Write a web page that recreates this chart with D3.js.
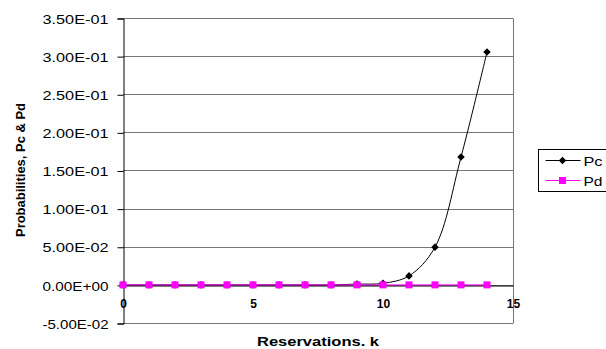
<!DOCTYPE html>
<html>
<head>
<meta charset="utf-8">
<script src="https://cdn.jsdelivr.net/npm/d3@7"></script>
<style>
  html, body { margin: 0; padding: 0; background: #fff; overflow: hidden; }
  svg { display: block; font-family: "Liberation Sans", Arial, sans-serif; }
</style>
</head>
<body>
<svg id="chart" width="606" height="349"></svg>
<script>
// Reservations k and the two probability series
const reservations = [0, 1, 2, 3, 4, 5, 6, 7, 8, 9, 10, 11, 12, 13, 14];
const pcValues = [0, 0, 0, 0, 0, 0, 0, 0, 0, 0.001, 0.002, 0.0118, 0.0495, 0.1676, 0.3054];
const pdValues = [0, 0, 0, 0, 0, 0, 0, 0, 0, 0, 0, 0, 0, 0, 0];
const seriesNames = ["Pc", "Pd"];
const xTickValues = [0, 5, 10, 15];
const yTickValues = [-0.05, 0, 0.05, 0.10, 0.15, 0.20, 0.25, 0.30, 0.35];

const svg = d3.select("#chart");
const plot = { left: 123, right: 513, top: 18, bottom: 323 };

const x = d3.scaleLinear().domain([0, 15]).range([plot.left, plot.right]);
const y = d3.scaleLinear().domain([-0.05, 0.35]).range([plot.bottom, plot.top]);

// Excel-style scientific notation, e.g. 3.50E-01
function sci(v) {
  const parts = v.toExponential(2).split("e");
  const exp = parts[1];
  return parts[0] + "E" + exp[0] + exp.slice(1).padStart(2, "0");
}

// Horizontal gridlines and plot frame
const gridColor = "#777";
svg.append("g")
  .selectAll("line")
  .data(yTickValues)
  .join("line")
  .attr("x1", plot.left).attr("x2", plot.right)
  .attr("y1", d => Math.round(y(d)) + 0.5).attr("y2", d => Math.round(y(d)) + 0.5)
  .attr("stroke", gridColor).attr("stroke-width", 1);

svg.append("line")
  .attr("x1", plot.right + 0.5).attr("x2", plot.right + 0.5)
  .attr("y1", Math.round(y(0.35)) + 0.5).attr("y2", Math.round(y(-0.05)) + 0.5)
  .attr("stroke", gridColor);

// Y axis
const yAxis = d3.axisLeft(y)
  .tickValues(yTickValues)
  .tickSize(6)
  .tickPadding(9)
  .tickFormat(sci);

const yg = svg.append("g")
  .attr("transform", `translate(${plot.left + 0.5},0.5)`)
  .call(yAxis);
yg.select(".domain").attr("stroke", "#000");
yg.selectAll(".tick line").attr("stroke", "#000");
yg.selectAll(".tick text")
  .attr("font-size", 13)
  .attr("font-family", "'Liberation Sans', Arial, sans-serif")
  .attr("fill", "#000")
  .attr("dy", "0.36em")
  .attr("textLength", 66)
  .attr("lengthAdjust", "spacingAndGlyphs");

// X axis crossing at zero
const xAxis = d3.axisBottom(x)
  .tickValues(xTickValues)
  .tickSize(0)
  .tickPadding(14)
  .tickFormat(d3.format("d"));

const xg = svg.append("g")
  .attr("transform", `translate(0,${Math.round(y(0)) + 0.5})`)
  .call(xAxis);
xg.select(".domain").attr("stroke", "#000");
xg.selectAll(".tick text")
  .attr("font-size", 12)
  .attr("font-weight", "bold")
  .attr("font-family", "'Liberation Sans', Arial, sans-serif")
  .attr("fill", "#000");

// Axis titles
svg.append("text")
  .attr("x", (plot.left + plot.right) / 2)
  .attr("y", 346)
  .attr("text-anchor", "middle")
  .attr("font-size", 13)
  .attr("font-weight", "bold")
  .attr("textLength", 122)
  .attr("lengthAdjust", "spacingAndGlyphs")
  .text("Reservations. k");

svg.append("text")
  .attr("transform", `translate(24.5,170) rotate(-90)`)
  .attr("text-anchor", "middle")
  .attr("font-size", 12)
  .attr("font-weight", "bold")
  .attr("textLength", 134)
  .attr("lengthAdjust", "spacingAndGlyphs")
  .text("Probabilities, Pc & Pd");

// Series
const pc = reservations.map((k, i) => ({ k, v: pcValues[i] }));
const pd = reservations.map((k, i) => ({ k, v: pdValues[i] }));

const smooth = d3.line().x(d => x(d.k)).y(d => y(d.v)).curve(d3.curveCatmullRom.alpha(0.5));
const straight = d3.line().x(d => x(d.k)).y(d => y(d.v));

svg.append("path")
  .attr("d", smooth(pc))
  .attr("fill", "none")
  .attr("stroke", "#000")
  .attr("stroke-width", 1);

const diamond = d3.symbol().type(d3.symbolDiamond2).size(36);
svg.append("g")
  .selectAll("path")
  .data(pc)
  .join("path")
  .attr("d", diamond)
  .attr("transform", d => `translate(${x(d.k)},${y(d.v)})`)
  .attr("fill", "#000");

svg.append("path")
  .attr("d", straight(pd))
  .attr("fill", "none")
  .attr("stroke", "#ff00ff")
  .attr("stroke-width", 1);

svg.append("g")
  .selectAll("rect")
  .data(pd)
  .join("rect")
  .attr("x", d => x(d.k) - 3.5)
  .attr("y", d => y(d.v) - 3.5)
  .attr("width", 7)
  .attr("height", 7)
  .attr("fill", "#ff00ff");

// Legend
const legend = svg.append("g").attr("transform", "translate(538.5,149.5)");
legend.append("rect")
  .attr("width", 80).attr("height", 42)
  .attr("fill", "#fff").attr("stroke", "#000");

seriesNames.forEach((name, i) => {
  const row = legend.append("g").attr("transform", `translate(0,${11 + i * 20})`);
  row.append("line")
    .attr("x1", 7).attr("x2", 42).attr("y1", 0).attr("y2", 0)
    .attr("stroke", i === 0 ? "#000" : "#ff00ff");
  if (i === 0) {
    row.append("path").attr("d", diamond).attr("transform", "translate(24,0)").attr("fill", "#000");
  } else {
    row.append("rect").attr("x", 20.5).attr("y", -3.5).attr("width", 7).attr("height", 7).attr("fill", "#ff00ff");
  }
  row.append("text")
    .attr("x", 45).attr("y", 5)
    .attr("font-size", 13)
    .attr("textLength", 19)
    .attr("lengthAdjust", "spacingAndGlyphs")
    .text(name);
});
</script>
</body>
</html>
